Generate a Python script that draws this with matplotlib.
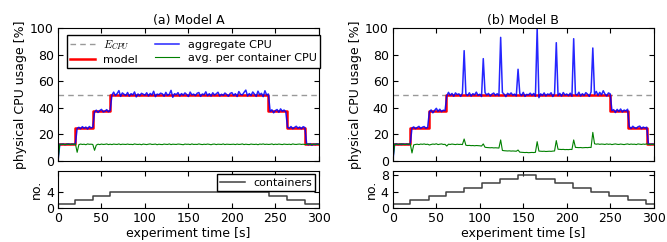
import matplotlib
matplotlib.use("Agg")
import matplotlib.pyplot as plt
import numpy as np

# sampled every 2 s, one row = 20 s, last value is t=300
cpu_a = [
    0.0, 12.6, 12.4, 12.7, 12.3, 12.5, 12.8, 12.4, 12.6, 12.5,
    13.0, 24.5, 25.3, 24.2, 25.8, 24.6, 25.5, 24.0, 25.9, 24.8,
    25.4, 36.8, 38.2, 36.5, 37.9, 38.8, 36.9, 37.4, 38.6, 37.0,
    38.1, 49.6, 51.8, 49.2, 50.7, 52.9, 48.6, 51.2, 50.1, 49.3,
    51.5, 48.8, 50.6, 49.7, 51.9, 48.2, 50.4, 49.1, 50.9, 50.2,
    49.5, 51.3, 48.9, 50.8, 49.6, 52.4, 48.4, 50.3, 49.8, 51.0,
    50.5, 48.7, 51.6, 49.4, 50.2, 53.1, 47.9, 50.6, 49.9, 51.4,
    48.9, 50.7, 49.5, 51.2, 50.0, 48.5, 51.8, 49.7, 50.3, 49.2,
    50.9, 51.5, 48.6, 50.4, 49.8, 52.0, 49.1, 50.6, 48.8, 51.3,
    49.6, 50.5, 51.7, 48.9, 50.2, 49.4, 51.1, 50.0, 48.7, 50.8,
    51.4, 49.3, 50.6, 48.5, 52.2, 50.1, 49.7, 51.6, 53.3, 48.9,
    50.7, 49.2, 51.9, 50.3, 48.6, 52.5, 49.8, 50.9, 48.4, 52.8,
    49.6, 50.4, 37.3, 38.5, 36.2, 37.9, 38.7, 36.6, 39.2, 37.4,
    38.3, 36.9, 25.4, 24.6, 25.9, 24.3, 25.2, 26.1, 24.7, 25.5,
    24.2, 25.8, 25.1, 12.9, 12.1, 13.0, 11.8, 12.7, 12.2, 12.9,
    12.4,
]
per_cont_a = [
    0.0, 12.4, 12.6, 12.5, 12.3, 12.7, 12.5, 12.4, 12.6, 12.5,
    12.8, 6.5, 12.3, 12.7, 12.4, 12.6, 12.2, 12.8, 12.5, 12.6,
    12.4, 8.0, 11.9, 12.6, 12.3, 12.7, 12.4, 12.5, 12.8, 12.3,
    12.6, 12.3, 12.7, 12.5, 12.4, 12.8, 12.3, 12.6, 12.5, 12.4,
    12.7, 12.4, 12.5, 12.3, 12.8, 12.5, 12.4, 12.6, 12.2, 12.7,
    12.5, 12.3, 12.6, 12.8, 12.4, 12.5, 12.7, 12.2, 12.6, 12.4,
    12.3, 12.7, 12.5, 12.4, 12.8, 12.3, 12.6, 12.5, 12.4, 12.7,
    12.6, 12.4, 12.2, 12.7, 12.5, 12.6, 12.3, 12.8, 12.4, 12.5,
    12.4, 12.8, 12.5, 12.3, 12.6, 12.4, 12.7, 12.5, 12.2, 12.6,
    12.7, 12.3, 12.6, 12.5, 12.4, 12.8, 12.3, 12.6, 12.5, 12.4,
    12.5, 12.6, 12.3, 12.7, 12.4, 12.5, 12.8, 12.3, 12.6, 12.4,
    12.3, 12.7, 12.5, 12.4, 12.6, 12.2, 12.7, 12.5, 12.8, 12.4,
    12.6, 12.4, 12.5, 12.8, 12.3, 12.6, 12.4, 12.7, 12.5, 12.3,
    12.7, 12.5, 12.4, 12.6, 12.3, 12.8, 12.5, 12.4, 12.6, 12.7,
    12.4, 12.6, 12.3, 12.5, 12.8, 12.2, 12.6, 12.4, 12.7, 12.5,
    12.6,
]
cpu_b = [
    0.0, 12.5, 12.8, 12.3, 12.6, 12.4, 12.7, 12.5, 12.6, 12.4,
    12.9, 24.8, 25.6, 24.3, 25.2, 26.0, 24.5, 25.4, 25.9, 24.6,
    25.3, 36.9, 38.4, 36.2, 38.0, 39.6, 37.3, 38.9, 37.1, 38.2,
    37.8, 48.9, 51.6, 49.4, 50.8, 48.7, 51.2, 49.9, 50.5, 48.6,
    50.9, 83.0, 50.4, 49.2, 51.3, 48.8, 50.6, 49.7, 51.8, 49.3,
    50.2, 48.5, 77.0, 51.4, 49.6, 50.8, 48.9, 50.3, 51.1, 49.4,
    50.6, 49.1, 93.0, 51.5, 50.2, 48.4, 50.9, 49.8, 51.2, 49.5,
    50.3, 48.9, 69.0, 50.7, 49.2, 51.6, 48.6, 50.1, 49.7, 51.0,
    49.4, 50.8, 48.7, 100.0, 47.6, 50.5, 49.3, 51.2, 48.9, 50.4,
    49.8, 51.3, 48.5, 50.6, 89.0, 49.2, 50.9, 48.8, 51.5, 49.6,
    50.4, 49.1, 51.0, 48.7, 92.0, 50.3, 49.5, 51.7, 48.9, 50.6,
    49.3, 51.4, 50.2, 48.6, 51.9, 85.0, 50.1, 52.3, 49.4, 51.6,
    49.7, 52.8, 50.3, 48.9, 51.2, 50.5, 37.9, 38.6, 36.4, 38.8,
    37.2, 39.1, 36.8, 38.3, 37.6, 38.9, 25.8, 24.4, 26.1, 25.0,
    24.6, 25.7, 26.2, 24.3, 25.5, 24.8, 25.4, 12.9, 12.3, 12.7,
    12.5,
]
per_cont_b = [
    0.0, 12.5, 12.7, 12.4, 12.6, 12.8, 12.5, 12.3, 12.7, 12.6,
    12.9, 6.0, 12.1, 12.4, 12.6, 12.3, 12.7, 12.5, 12.8, 12.4,
    12.6, 12.0, 12.4, 12.7, 12.5, 12.9, 12.3, 12.6, 12.8, 12.4,
    12.5, 11.2, 12.6, 12.4, 12.7, 12.5, 12.3, 12.6, 12.4, 12.5,
    12.3, 16.5, 11.8, 11.6, 11.7, 11.5, 11.6, 11.4, 11.6, 11.5,
    11.4, 11.2, 12.8, 10.3, 10.1, 10.0, 9.9, 10.0, 9.8, 9.9,
    9.8, 9.7, 15.8, 7.9, 7.7, 7.6, 7.5, 7.6, 7.4, 7.5,
    7.4, 7.3, 8.2, 6.6, 6.5, 6.4, 6.3, 6.4, 6.2, 6.3,
    6.4, 6.3, 6.5, 14.5, 7.4, 7.3, 7.2, 7.3, 7.1, 7.2,
    7.3, 7.2, 7.4, 7.5, 15.3, 8.8, 8.7, 8.6, 8.7, 8.5,
    8.6, 8.5, 8.7, 8.6, 15.8, 10.2, 10.1, 10.0, 10.1, 9.9,
    10.0, 10.1, 10.0, 10.2, 10.1, 21.5, 12.9, 12.6, 12.8, 12.5,
    12.7, 12.6, 12.4, 12.8, 12.5, 12.7, 12.3, 12.6, 12.8, 12.5,
    12.4, 12.7, 12.5, 12.3, 12.6, 12.8, 12.4, 12.7, 12.5, 12.6,
    12.3, 12.8, 12.6, 12.4, 12.7, 12.5, 12.9, 12.3, 12.6, 12.4,
    12.5,
]

# step changes (time, value)
model_a_t = [0, 20, 40, 60, 242, 263, 284, 300]
model_a_v = [12.5, 25, 37.5, 50, 37.5, 25, 12.5, 12.5]
model_b_t = [0, 20, 41, 61, 250, 271, 292, 300]
model_b_v = [12.5, 25, 37.5, 50, 37.5, 25, 12.5, 12.5]
cont_a_t = [0, 20, 40, 60, 243, 263, 284, 300]
cont_a_v = [1, 2, 3, 4, 3, 2, 1, 1]
cont_b_t = [0, 20, 41, 61, 82, 103, 123, 144, 165, 186, 207, 228, 249, 270, 291, 300]
cont_b_v = [1, 2, 3, 4, 5, 6, 7, 8, 7, 6, 5, 4, 3, 2, 1, 1]
E_CPU = 50

plt.rcParams.update({
    "font.family": "DejaVu Sans",
    "font.size": 9,
    "mathtext.fontset": "cm",
    "xtick.direction": "in",
    "ytick.direction": "in",
    "xtick.top": True,
    "ytick.right": True,
    "xtick.major.size": 3.5,
    "ytick.major.size": 3.5,
    "xtick.major.pad": 3,
    "ytick.major.pad": 3,
    "legend.fancybox": False,
    "legend.edgecolor": "black",
    "legend.framealpha": 1,
})


def draw(fig, left, title, cpu, per_cont, model_t, model_v, cont_t, cont_v, cont_ticks, legends):
    t = np.arange(len(cpu)) * 2
    ax = fig.add_axes([left, 0.335, 0.391, 0.549])
    ax.axhline(E_CPU, color="0.6", lw=1, dashes=(4, 3), label=r"$E_{CPU}$")
    ax.step(model_t, model_v, where="post", color="red", lw=1.8, label="model")
    ax.plot(t, cpu, color="blue", lw=1.1, alpha=0.85, label="aggregate CPU")
    ax.plot(t, per_cont, color="green", lw=0.8, label="avg. per container CPU")
    ax.set_xlim(0, 300)
    ax.set_ylim(0, 100)
    ax.set_xticks(range(0, 301, 50))
    ax.set_xticklabels([])
    ax.set_yticks(range(0, 101, 20))
    ax.set_ylabel("physical CPU usage [%]", labelpad=2)
    ax.set_title(title, fontsize=9, pad=3)
    if legends:
        ax.legend(loc="upper center", bbox_to_anchor=(0.52, 0.99), ncol=2, fontsize=8,
                  handlelength=2.2, columnspacing=1.5, borderpad=0.3, labelspacing=0.25)

    ax2 = fig.add_axes([left, 0.140, 0.391, 0.153])
    ax2.step(cont_t, cont_v, where="post", color="0.25", lw=1.1, label="containers")
    ax2.set_xlim(0, 300)
    ax2.set_ylim(0, 9)
    ax2.set_xticks(range(0, 301, 50))
    ax2.set_yticks(cont_ticks)
    ax2.set_xlabel("experiment time [s]", labelpad=1)
    ax2.set_ylabel("no.", labelpad=2)
    if legends:
        ax2.legend(loc="upper right", fontsize=8, handlelength=2.2, borderpad=0.3,
                   borderaxespad=0.3)


fig = plt.figure(figsize=(6.67, 2.42), dpi=100)
draw(fig, 0.087, "(a) Model A", cpu_a, per_cont_a, model_a_t, model_a_v, cont_a_t, cont_a_v, [0, 4], True)
draw(fig, 0.589, "(b) Model B", cpu_b, per_cont_b, model_b_t, model_b_v, cont_b_t, cont_b_v, [0, 4, 8], False)
fig.savefig("out.png", dpi=100)
